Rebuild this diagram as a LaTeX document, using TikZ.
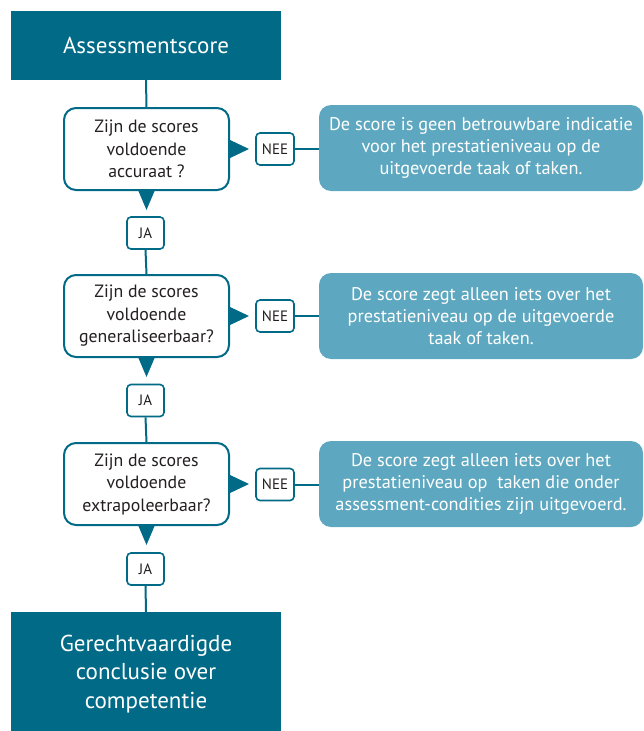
\documentclass[tikz,border=0pt]{standalone}
\usepackage{fontspec}
\setmainfont{PT Sans}
\usetikzlibrary{calc}
\definecolor{darkteal}{RGB}{0,106,135}
\definecolor{lightteal}{RGB}{93,168,192}
\definecolor{textgray}{RGB}{35,31,32}
\tikzset{
  endbox/.style={fill=darkteal, draw=none, text=white, align=center, inner sep=0pt},
  qbox/.style={draw=darkteal, line width=2pt, fill=white, rounded corners=12pt, text=textgray,
     minimum width=165pt, minimum height=82pt, align=center, inner sep=0pt,
     font=\fontsize{17.8}{22.5}\selectfont},
  infobox/.style={fill=lightteal, draw=none, rounded corners=12pt, text=white,
     minimum width=324pt, minimum height=86pt, align=center, inner sep=0pt,
     font=\fontsize{18.3}{22.3}\selectfont},
  tagbox/.style={draw=darkteal, line width=1.6pt, fill=white, rounded corners=4pt, text=textgray,
     minimum height=32pt, inner sep=0pt, font=\fontsize{15}{16}\selectfont},
  conn/.style={draw=darkteal, line width=2pt},
  tri/.style={fill=darkteal, draw=none}
}
\begin{document}
\begin{tikzpicture}[x=1pt,y=-1pt]
\useasboundingbox (0,0) rectangle (644,731);
% start and end
\node[endbox, minimum width=270pt, minimum height=69pt, font=\fontsize{23}{26}\selectfont] (start) at (146,45.5) {Assessmentscore};
\node[endbox, minimum width=270pt, minimum height=125pt] (end) at (146,674.5) {};
\node[text=white, align=center, font=\fontsize{23}{28.5}\selectfont, inner sep=0pt] (endtext) at (146,674) {Gerechtvaardigde\\conclusie over\\competentie};
% questions
\node[qbox] (q1) at (146.5,149) {Zijn de scores\\voldoende\\accuraat ?};
\node[qbox] (q2) at (146.5,316) {Zijn de scores\\voldoende\\generaliseerbaar?};
\node[qbox] (q3) at (146.5,484) {Zijn de scores\\voldoende\\extrapoleerbaar?};
% tags
\node[tagbox, minimum width=37pt] (ja1) at (145.5,233) {JA};
\node[tagbox, minimum width=37pt] (ja2) at (145.5,400.5) {JA};
\node[tagbox, minimum width=37pt] (ja3) at (145.5,569) {JA};
\node[tagbox, minimum width=38pt] (nee1) at (275,149) {NEE};
\node[tagbox, minimum width=38pt] (nee2) at (275,316) {NEE};
\node[tagbox, minimum width=38pt] (nee3) at (275,484.5) {NEE};
% info boxes
\node[infobox] (i1) at (481,148) {De score is geen betrouwbare indicatie\\voor het prestatieniveau op de\\uitgevoerde taak of taken.};
\node[infobox] (i2) at (481,316) {De score zegt alleen iets over het\\prestatieniveau op de uitgevoerde\\taak of taken.};
\node[infobox] (i3) at (481,484) {De score zegt alleen iets over het\\prestatieniveau op\ \ taken die onder\\assessment-condities zijn uitgevoerd.};
% connectors
\draw[conn] (start.south) -- (q1.north);
\draw[conn] (ja1.south) -- (q2.north);
\draw[conn] (ja2.south) -- (q3.north);
\draw[conn] (ja3.south) -- (end.north);
\draw[conn] (nee1.east) -- (i1.west |- nee1.east);
\draw[conn] (nee2.east) -- (i2.west |- nee2.east);
\draw[conn] (nee3.east) -- (i3.west |- nee3.east);
% triangles
\foreach \q in {q1,q2,q3}{
  \fill[tri] ($(\q.south)+(-8.5,-1)$) -- ($(\q.south)+(8.5,-1)$) -- ($(\q.south)+(0,19)$) -- cycle;
  \fill[tri] ($(\q.east)+(-1,-9.5)$) -- ($(\q.east)+(-1,9.5)$) -- ($(\q.east)+(19,0)$) -- cycle;
}
\end{tikzpicture}
\end{document}
